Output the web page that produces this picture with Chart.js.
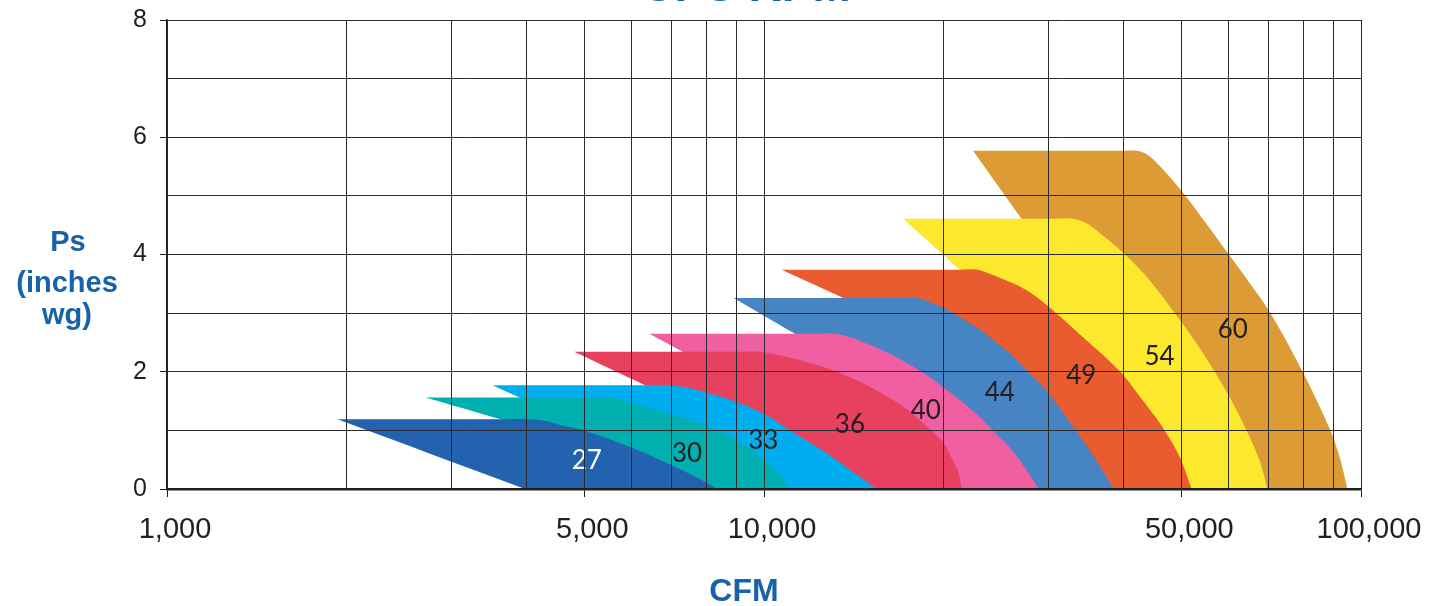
<!DOCTYPE html>
<html>
<head>
<meta charset="utf-8">
<title>Fan performance</title>
<script src="https://cdn.jsdelivr.net/npm/chart.js@4.4.1/dist/chart.umd.min.js"></script>
<style>
  html, body { margin: 0; padding: 0; background: #ffffff; }
  #wrap { width: 1439px; height: 606px; }
</style>
</head>
<body>
<div id="wrap"><canvas id="fanChart" width="1439" height="606"></canvas></div>
<script>
// Fan sizes, each drawn as an operating envelope: CFM against static pressure (inches wg).
// Points run from the lower-left corner up the left slope, along the top and down the curve.
const fanSizes = ['27', '30', '33', '36', '40', '44', '49', '54', '60'];

const cfm27 = [3980, 1930, 3740, 4010, 4300, 4560, 5020, 5990, 7020, 7970, 8340];
const ps27  = [0, 1.19, 1.19, 1.19, 1.16, 1.09, 0.99, 0.71, 0.40, 0.12, 0];

const cfm30 = [8340, 3620, 2710, 5150, 5530, 5740, 5990, 7020, 7970, 8980, 10000, 10640, 11050];
const ps30  = [0, 1.19, 1.56, 1.56, 1.56, 1.53, 1.46, 1.28, 1.09, 0.83, 0.49, 0.24, 0];

const cfm33 = [11050, 3900, 3510, 6490, 6960, 7520, 7970, 8980, 10000, 11180, 12750, 14090, 15460];
const ps33  = [0, 1.56, 1.77, 1.77, 1.77, 1.72, 1.65, 1.49, 1.28, 0.97, 0.61, 0.29, 0];

const cfm36 = [15460, 6320, 4810, 9190, 9850, 10500, 11180, 12750, 14480, 16440, 17550, 18740, 19930, 20560, 21170, 21440];
const ps36  = [0, 1.77, 2.34, 2.34, 2.34, 2.29, 2.23, 2.06, 1.83, 1.52, 1.32, 1.06, 0.80, 0.55, 0.28, 0];

const cfm40 = [21440, 7310, 6430, 12270, 13150, 13750, 14480, 16440, 18740, 19930, 21280, 22980, 24160, 26100, 27550, 28850];
const ps40  = [0, 2.34, 2.65, 2.65, 2.65, 2.61, 2.53, 2.28, 1.94, 1.74, 1.52, 1.23, 1.00, 0.65, 0.32, 0];

const cfm44 = [28850, 11270, 8890, 16890, 18100, 19180, 19930, 21280, 22980, 24160, 26100, 27550, 29870, 33400, 35800, 37200, 38520];
const ps44  = [0, 2.65, 3.26, 3.26, 3.26, 3.17, 3.10, 2.93, 2.72, 2.55, 2.27, 2.02, 1.65, 0.98, 0.53, 0.26, 0];

const cfm49 = [38520, 13570, 10710, 21280, 22810, 24160, 27550, 30690, 33790, 39420, 43410, 46890, 49680, 52030];
const ps49  = [0, 3.26, 3.74, 3.74, 3.74, 3.65, 3.39, 3.02, 2.64, 2.01, 1.47, 1.00, 0.55, 0];

const cfm54 = [52030, 21280, 17110, 30690, 32890, 34720, 36080, 39880, 43750, 48360, 53040, 59770, 64300, 67610, 69720];
const ps54  = [0, 3.74, 4.61, 4.61, 4.61, 4.53, 4.41, 4.04, 3.62, 3.05, 2.48, 1.63, 1.00, 0.49, 0];

const cfm60 = [69720, 26990, 22400, 39270, 42090, 43750, 46530, 50840, 55120, 59770, 65050, 70530, 79480, 88880, 92360, 94880];
const ps60  = [0, 4.61, 5.77, 5.77, 5.77, 5.71, 5.46, 5.00, 4.52, 4.03, 3.52, 3.00, 2.04, 1.00, 0.50, 0];

// Where each size number sits inside its band
const labelCfm = [5050, 7430, 9970, 13930, 18670, 24830, 34010, 45990, 61000];
const labelPs  = [0.48, 0.61, 0.82, 1.09, 1.33, 1.64, 1.94, 2.25, 2.72];

// Axis ticks
const xTickValues = [1000, 2000, 3000, 4000, 5000, 6000, 7000, 8000, 9000,
                     10000, 20000, 30000, 40000, 50000, 60000, 70000, 80000, 90000, 100000];
const xLabeledTicks = [1000, 5000, 10000, 50000, 100000];
const yLabeledTicks = [0, 2, 4, 6, 8];

const fanColors = ['#2262ae', '#00afb0', '#00aeef', '#e8405f', '#ef5fa1',
                   '#4684c4', '#e95c30', '#fce82d', '#dc9b35'];

const cfmSeries = [cfm27, cfm30, cfm33, cfm36, cfm40, cfm44, cfm49, cfm54, cfm60];
const psSeries  = [ps27, ps30, ps33, ps36, ps40, ps44, ps49, ps54, ps60];

const INK = '#231f20';
const BLUE = '#1762a9';
const SANS = '"Liberation Sans", Arial, Helvetica, sans-serif';

// Build one closed outline per fan. The straight corners (lower-left, slope joint and
// top-left) are repeated so the spline stays sharp there and only rounds the falling edge.
function outline(cfm, ps) {
  const pts = cfm.map((x, j) => ({ x: x, y: ps[j] }));
  const top = Math.max(...ps);
  const topLeft = ps.indexOf(top);
  const out = [];
  pts.forEach((p, j) => {
    out.push(p);
    if (j <= topLeft) out.push({ x: p.x, y: p.y });
  });
  return out;
}

// Chart.js paints dataset 0 last, so the smallest fan ends up in front.
const datasets = fanSizes.map((size, i) => ({
  label: size,
  data: outline(cfmSeries[i], psSeries[i]),
  backgroundColor: fanColors[i],
  borderColor: 'rgba(0,0,0,0)',
  borderWidth: 0,
  pointRadius: 0,
  pointHoverRadius: 0,
  pointHitRadius: 0,
  tension: 0.35,
  fill: 'shape'
}));

const sizeLabels = {
  id: 'sizeLabels',
  afterDatasetsDraw(chart) {
    const { ctx, scales: { x, y } } = chart;
    ctx.save();
    ctx.font = '26px Lato, "Open Sans", sans-serif';
    ctx.textAlign = 'center';
    ctx.textBaseline = 'middle';
    fanSizes.forEach((s, i) => {
      ctx.fillStyle = i === 0 ? '#ffffff' : INK;
      ctx.fillText(s, x.getPixelForValue(labelCfm[i]), y.getPixelForValue(labelPs[i]));
    });
    ctx.restore();
  }
};

const axisTitles = {
  id: 'axisTitles',
  afterDraw(chart) {
    const ctx = chart.ctx;
    ctx.save();
    ctx.fillStyle = BLUE;
    ctx.textAlign = 'center';
    ctx.textBaseline = 'alphabetic';
    ctx.font = 'bold 46px ' + SANS;
    ctx.fillText('CFC RPM', 746, 1);
    ctx.font = 'bold 29px ' + SANS;
    ctx.fillText('Ps', 68, 251);
    ctx.fillText('(inches', 67, 292);
    ctx.fillText('wg)', 67, 324);
    ctx.font = 'bold 32px ' + SANS;
    ctx.fillText('CFM', 744, 601);
    ctx.restore();
  }
};

new Chart(document.getElementById('fanChart'), {
  type: 'line',
  data: { datasets: datasets },
  options: {
    responsive: false,
    animation: false,
    devicePixelRatio: 1,
    events: [],
    layout: { autoPadding: false, padding: { left: 0, right: 78, top: 20, bottom: 0 } },
    plugins: {
      legend: { display: false },
      tooltip: { enabled: false },
      filler: { propagate: false }
    },
    scales: {
      x: {
        type: 'logarithmic',
        min: 1000,
        max: 100000,
        afterBuildTicks: (s) => { s.ticks = xTickValues.map(v => ({ value: v })); },
        afterFit: (s) => { s.height = 117; s.paddingLeft = 0; s.paddingRight = 0; },
        grid: {
          color: '#2b2b2b',
          lineWidth: 1,
          z: 1,
          tickLength: 8,
          tickColor: (c) => (c.tick && xLabeledTicks.includes(c.tick.value)) ? INK : 'rgba(0,0,0,0)'
        },
        border: { display: true, color: INK, width: 2.5, z: 2 },
        ticks: {
          autoSkip: false,
          maxRotation: 0,
          minRotation: 0,
          padding: 16,
          labelOffset: 8,
          color: INK,
          font: { family: SANS, size: 29 },
          callback: (v) => xLabeledTicks.includes(v) ? v.toLocaleString('en-US') : ''
        }
      },
      y: {
        type: 'linear',
        min: 0,
        max: 8,
        ticks: {
          stepSize: 1,
          padding: 13,
          color: INK,
          font: { family: SANS, size: 25 },
          callback: (v) => yLabeledTicks.includes(v) ? String(v) : ''
        },
        // the end labels may overhang the plot; keep the plot itself at the set padding
        afterFit: (s) => { s.width = 167; s.paddingTop = 0; s.paddingBottom = 0; },
        grid: {
          color: '#2b2b2b',
          lineWidth: 1,
          z: 1,
          tickLength: 7,
          tickColor: (c) => (c.tick && yLabeledTicks.includes(c.tick.value)) ? INK : 'rgba(0,0,0,0)'
        },
        border: { display: true, color: INK, width: 1.5, z: 2 }
      }
    }
  },
  plugins: [sizeLabels, axisTitles]
});
</script>
</body>
</html>
